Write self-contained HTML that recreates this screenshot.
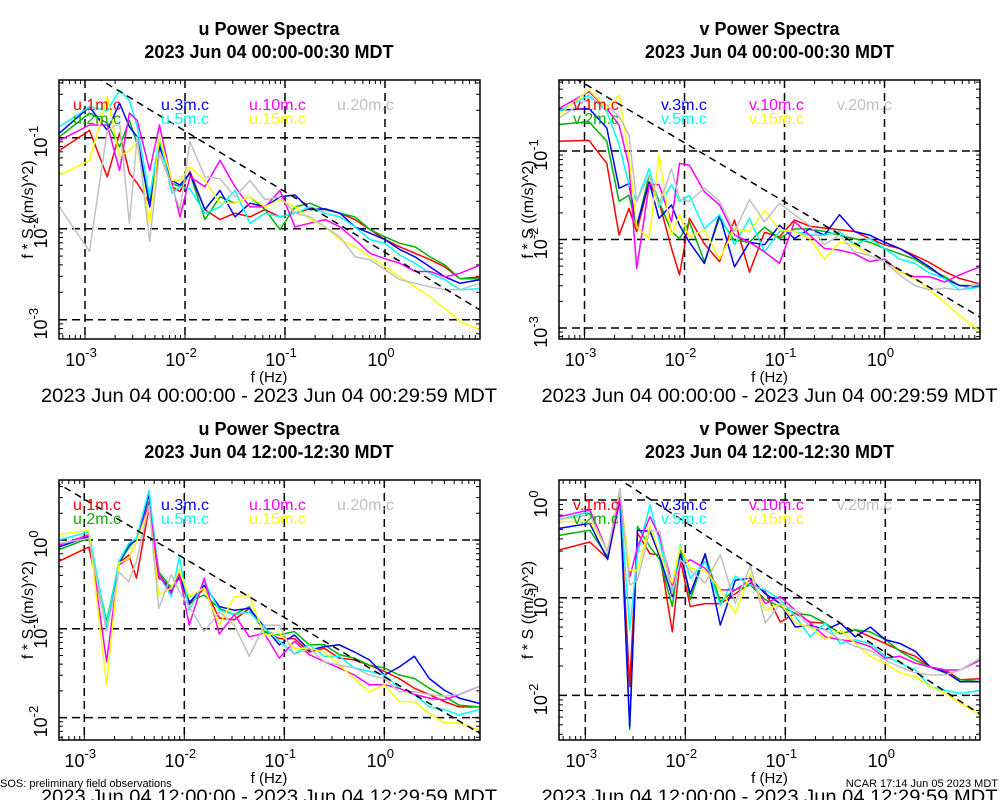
<!DOCTYPE html>
<html><head><meta charset="utf-8"><style>
html,body{margin:0;padding:0;background:#fff;}
svg{display:block;font-family:"Liberation Sans",sans-serif;}
</style></head><body>
<svg id="chart" width="1000" height="800" viewBox="0 0 1000 800" xmlns="http://www.w3.org/2000/svg"></svg>
<script>
// ---- shared data ----
const freqs = [0.000556,0.00111,0.00167,0.00222,0.00278,0.00333,0.00444,0.00556,0.00741,0.00891,0.0112,0.0158,0.0224,0.0316,0.0447,0.0631,0.0891,0.126,0.178,0.251,0.355,0.501,0.708,1.0,1.41,2.0,2.82,3.98,5.62,8.9];
const seriesNames = ["1m","2m","3m","5m","10m","15m","20m"];
const seriesColors = ["#ff0000","#00b400","#0000ff","#00ffff","#ff00ff","#ffff00","#c0c0c0"];
const xTickExps = [-3,-2,-1,0];

// panel 1: u night (log10 values)
const p1Red    = [-1.14,-0.92,-1.43,-0.95,-1.39,-1.50,-1.72,-1.17,-1.54,-1.59,-1.37,-1.79,-1.90,-1.83,-1.87,-1.79,-1.87,-1.83,-1.78,-1.79,-1.83,-1.90,-2.01,-2.12,-2.20,-2.27,-2.34,-2.42,-2.55,-2.53];
const p1Green  = [-0.99,-0.73,-0.84,-1.10,-0.81,-1.07,-1.72,-1.06,-1.50,-1.54,-1.39,-1.90,-1.65,-1.72,-1.65,-1.79,-2.01,-1.76,-1.72,-1.79,-1.83,-1.87,-2.01,-2.09,-2.16,-2.20,-2.31,-2.40,-2.55,-2.55];
const p1Blue   = [-0.95,-0.66,-0.92,-0.62,-0.88,-0.99,-1.76,-1.10,-1.47,-1.52,-1.39,-1.79,-1.58,-1.87,-1.72,-1.76,-1.65,-1.63,-1.79,-1.78,-1.83,-1.98,-2.05,-2.12,-2.23,-2.31,-2.42,-2.53,-2.60,-2.56];
const p1Cyan   = [-0.88,-0.66,-0.70,-0.48,-0.59,-0.88,-1.65,-0.99,-1.61,-1.54,-1.56,-1.83,-1.76,-1.58,-1.94,-1.83,-1.87,-1.83,-1.76,-1.83,-1.87,-1.98,-2.12,-2.16,-2.29,-2.38,-2.49,-2.56,-2.67,-2.66];
const p1Magenta= [-1.03,-0.86,-0.86,-1.36,-0.73,-0.81,-1.36,-0.86,-1.50,-1.87,-1.43,-1.54,-1.25,-1.54,-1.76,-1.76,-1.58,-1.98,-1.94,-1.90,-1.98,-2.12,-2.27,-2.33,-2.38,-2.47,-2.47,-2.53,-2.49,-2.40];
const p1Yellow = [-1.41,-1.25,-0.55,-1.21,-1.14,-1.06,-1.94,-0.99,-1.47,-1.47,-1.32,-1.47,-1.72,-1.72,-1.65,-1.76,-1.68,-1.76,-1.90,-1.98,-2.12,-2.20,-2.31,-2.42,-2.53,-2.64,-2.75,-2.88,-3.02,-3.11];
const p1Gray   = [-1.76,-2.25,-0.92,-0.84,-1.94,-0.99,-2.14,-1.17,-1.54,-1.79,-1.04,-1.43,-1.45,-1.65,-1.47,-1.68,-1.65,-1.83,-1.87,-1.98,-2.09,-2.31,-2.34,-2.45,-2.56,-2.60,-2.64,-2.67,-2.67,-2.60];

// panel 2: v night
const p2Red    = [-0.89,-0.88,-1.14,-1.95,-1.65,-1.91,-1.35,-1.57,-2.10,-2.40,-1.76,-2.05,-2.25,-1.78,-2.37,-1.92,-1.97,-1.78,-1.85,-1.87,-1.89,-1.91,-1.99,-2.06,-2.10,-2.18,-2.26,-2.36,-2.44,-2.50];
const p2Green  = [-0.70,-0.67,-0.89,-1.57,-1.50,-1.86,-1.27,-1.57,-1.91,-1.99,-1.80,-2.25,-1.76,-2.01,-2.03,-1.86,-1.99,-1.88,-1.88,-1.91,-1.95,-1.99,-2.03,-2.10,-2.16,-2.22,-2.33,-2.42,-2.52,-2.52];
const p2Blue   = [-0.54,-0.52,-0.74,-1.42,-1.37,-1.84,-1.35,-1.76,-1.61,-1.84,-2.03,-2.27,-1.72,-2.31,-2.03,-2.06,-1.84,-1.99,-1.88,-1.95,-1.72,-1.91,-1.95,-2.03,-2.10,-2.20,-2.31,-2.44,-2.52,-2.54];
const p2Cyan   = [-0.55,-0.37,-0.55,-0.93,-1.38,-1.57,-1.20,-1.63,-1.38,-1.57,-1.50,-1.88,-1.72,-2.06,-1.76,-2.14,-1.91,-1.91,-1.95,-1.95,-1.91,-2.06,-1.99,-2.10,-2.22,-2.27,-2.38,-2.44,-2.57,-2.54];
const p2Magenta= [-0.52,-0.33,-0.52,-0.71,-1.16,-2.33,-1.38,-1.38,-1.80,-1.14,-1.16,-1.46,-1.61,-1.95,-2.03,-2.14,-2.27,-1.80,-1.95,-2.10,-2.12,-2.16,-2.25,-2.22,-2.37,-2.42,-2.42,-2.48,-2.40,-2.31];
const p2Yellow = [-0.59,-0.31,-0.52,-0.37,-1.05,-1.86,-1.99,-1.05,-1.95,-1.72,-1.97,-1.89,-2.22,-1.88,-1.91,-1.67,-1.89,-1.91,-1.99,-2.22,-2.03,-2.06,-2.18,-2.25,-2.37,-2.44,-2.57,-2.71,-2.86,-3.03];
const p2Gray   = [-0.63,-0.40,-0.48,-0.61,-0.82,-1.57,-1.27,-1.61,-1.20,-1.54,-1.57,-1.42,-1.57,-1.91,-1.55,-1.80,-1.59,-1.72,-1.84,-2.06,-1.95,-2.14,-2.18,-2.25,-2.40,-2.52,-2.57,-2.55,-2.57,-2.50];

// panel 3: u day
const p3Red    = [-0.24,-0.08,-0.99,-0.26,-0.17,-0.43,0.36,-0.43,-0.53,-0.43,-0.73,-0.54,-0.88,-0.90,-0.77,-1.03,-1.11,-1.11,-1.26,-1.22,-1.33,-1.35,-1.41,-1.48,-1.56,-1.67,-1.74,-1.82,-1.88,-1.88];
const p3Green  = [-0.11,0.02,-0.92,-0.26,-0.09,0.02,0.43,-0.36,-0.54,-0.36,-0.69,-0.62,-0.77,-0.84,-0.75,-1.03,-1.07,-1.03,-1.18,-1.18,-1.29,-1.33,-1.41,-1.44,-1.52,-1.56,-1.67,-1.76,-1.86,-1.88];
const p3Blue   = [-0.08,0.04,-0.99,-0.26,-0.06,0.00,0.51,-0.39,-0.58,-0.41,-0.71,-0.51,-0.75,-0.79,-0.77,-0.98,-1.18,-1.07,-1.24,-1.20,-1.18,-1.26,-1.35,-1.52,-1.43,-1.31,-1.56,-1.69,-1.78,-1.84];
const p3Cyan   = [0.00,0.09,-0.96,-0.24,-0.04,0.02,0.56,-0.39,-0.64,-0.19,-0.79,-0.47,-0.79,-0.84,-0.81,-0.99,-1.14,-1.28,-1.18,-1.31,-1.31,-1.44,-1.48,-1.52,-1.67,-1.74,-1.88,-1.91,-1.97,-1.91];
const p3Magenta= [-0.06,0.06,-1.37,-0.28,-0.21,-0.02,0.41,-0.39,-0.60,-0.38,-0.96,-0.43,-1.06,-0.84,-1.09,-1.05,-1.33,-1.14,-1.29,-1.37,-1.44,-1.52,-1.63,-1.63,-1.67,-1.74,-1.78,-1.80,-1.74,-1.65];
const p3Yellow = [0.06,0.11,-1.63,-0.26,-0.21,-0.02,0.36,-0.62,-0.54,-0.34,-0.64,-0.54,-0.96,-0.64,-0.62,-1.07,-1.05,-1.22,-1.22,-1.26,-1.41,-1.56,-1.71,-1.63,-1.82,-1.82,-1.95,-2.06,-2.06,-2.14];
const p3Gray   = [-0.04,0.02,-1.03,-0.36,-0.47,-0.24,0.39,-0.77,-0.39,-0.58,-0.75,-1.03,-0.81,-0.96,-1.31,-0.96,-0.96,-1.29,-1.22,-1.37,-1.41,-1.44,-1.52,-1.56,-1.71,-1.71,-1.74,-1.76,-1.74,-1.65];

// panel 4: v day
const p4Red    = [-0.51,-0.43,-0.60,0.00,-1.91,-0.34,-0.55,-0.56,-1.35,-0.61,-1.09,-1.06,-1.06,-0.96,-0.85,-0.94,-1.25,-1.16,-1.25,-1.26,-1.37,-1.33,-1.40,-1.47,-1.54,-1.60,-1.71,-1.74,-1.84,-1.83];
const p4Green  = [-0.36,-0.31,-0.58,0.07,-2.35,-0.27,-0.48,-0.61,-1.09,-0.48,-1.02,-0.56,-1.04,-0.92,-0.87,-1.02,-1.09,-1.16,-1.18,-1.26,-1.37,-1.33,-1.35,-1.43,-1.55,-1.64,-1.71,-1.77,-1.84,-1.86];
const p4Blue   = [-0.29,-0.24,-0.61,0.02,-2.32,-0.31,-0.32,-0.58,-0.99,-0.55,-0.96,-0.55,-1.28,-0.82,-0.80,-0.96,-1.06,-1.30,-1.28,-1.33,-1.26,-1.40,-1.30,-1.43,-1.47,-1.55,-1.71,-1.76,-1.86,-1.86];
const p4Cyan   = [-0.20,-0.12,-0.53,0.07,-1.33,-0.55,-0.05,-0.44,-0.94,-0.46,-0.80,-0.63,-1.08,-0.78,-0.87,-0.92,-1.02,-1.19,-1.40,-1.26,-1.47,-1.43,-1.47,-1.60,-1.67,-1.74,-1.91,-1.95,-1.98,-1.95];
const p4Magenta= [-0.17,-0.10,-0.53,0.03,-0.79,-0.48,-0.17,-0.38,-0.87,-0.68,-0.61,-0.70,-0.92,-0.92,-0.82,-1.06,-0.99,-1.13,-1.26,-1.40,-1.43,-1.45,-1.50,-1.62,-1.60,-1.67,-1.71,-1.74,-1.74,-1.64];
const p4Yellow = [-0.22,-0.22,-0.51,0.10,-0.72,-0.72,-0.26,-0.55,-0.85,-0.48,-0.70,-0.72,-0.92,-1.16,-0.75,-1.13,-1.06,-1.26,-1.30,-1.43,-1.33,-1.47,-1.60,-1.67,-1.77,-1.81,-1.91,-1.98,-2.08,-2.20];
const p4Gray   = [-0.20,-0.15,-0.53,0.12,-0.87,-0.82,-0.31,-0.32,-0.96,-0.61,-0.72,-0.85,-0.56,-1.06,-0.67,-1.26,-1.06,-1.13,-1.30,-1.33,-1.43,-1.50,-1.54,-1.64,-1.71,-1.77,-1.79,-1.79,-1.74,-1.62];

const p1YTicks = [-1,-2,-3];
const p2YTicks = [-1,-2,-3];
const p3YTicks = [0,-1,-2];
const p4YTicks = [0,-1,-2];
// reference line: log10(y) = intercept - (2/3) log10(f)
const refIntercepts = [-2.26,-2.24,-1.54,-1.56];

const panels = [
 {comp:"u", title:"u Power Spectra", sub:"2023 Jun 04 00:00-00:30 MDT", range:"2023 Jun 04 00:00:00 - 2023 Jun 04 00:29:59 MDT",
  x0:59,x1:480,y0:80,y1:339,xDec:85,yRef:-1,yRefPx:137.7,yPerDec:91,series:[p1Red,p1Green,p1Blue,p1Cyan,p1Magenta,p1Yellow,p1Gray],yt:p1YTicks,ref:refIntercepts[0],top:0},
 {comp:"v", title:"v Power Spectra", sub:"2023 Jun 04 00:00-00:30 MDT", range:"2023 Jun 04 00:00:00 - 2023 Jun 04 00:29:59 MDT",
  x0:559,x1:980,y0:80,y1:339,xDec:584.5,yRef:-1,yRefPx:151,yPerDec:88.5,series:[p2Red,p2Green,p2Blue,p2Cyan,p2Magenta,p2Yellow,p2Gray],yt:p2YTicks,ref:refIntercepts[1],top:0},
 {comp:"u", title:"u Power Spectra", sub:"2023 Jun 04 12:00-12:30 MDT", range:"2023 Jun 04 12:00:00 - 2023 Jun 04 12:29:59 MDT",
  x0:59,x1:480,y0:480,y1:740,xDec:84.3,yRef:0,yRefPx:540,yPerDec:88.8,series:[p3Red,p3Green,p3Blue,p3Cyan,p3Magenta,p3Yellow,p3Gray],yt:p3YTicks,ref:refIntercepts[2],top:400},
 {comp:"v", title:"v Power Spectra", sub:"2023 Jun 04 12:00-12:30 MDT", range:"2023 Jun 04 12:00:00 - 2023 Jun 04 12:29:59 MDT",
  x0:559,x1:980,y0:480,y1:740,xDec:585.3,yRef:0,yRefPx:500,yPerDec:97.7,series:[p4Red,p4Green,p4Blue,p4Cyan,p4Magenta,p4Yellow,p4Gray],yt:p4YTicks,ref:refIntercepts[3],top:400}
];

const NS="http://www.w3.org/2000/svg";
const svg=document.getElementById('chart');
function mk(tag,attrs,parent){const e=document.createElementNS(NS,tag);for(const k in attrs)e.setAttribute(k,attrs[k]);(parent||svg).appendChild(e);return e;}

panels.forEach((p,pi)=>{
  const g=mk('g',{});
  
  
  const cx=(p.x0+p.x1)/2+(pi%2===0?-0.5:0);
  const sx=L=>p.xDec+(L+3)*100;
  const sy=V=>p.yRefPx-(V-p.yRef)*p.yPerDec;
  const clipId='clip'+pi;
  const cp=mk('clipPath',{id:clipId},g);mk('rect',{x:p.x0,y:p.y0,width:p.x1-p.x0,height:p.y1-p.y0},cp);

  const t1=mk('text',{x:cx,y:p.top+35,'text-anchor':'middle','font-size':18,'font-weight':'bold'},g);t1.textContent=p.title;
  
  const t2=mk('text',{x:cx,y:p.top+58,'text-anchor':'middle','font-size':18,'font-weight':'bold'},g);t2.textContent=p.sub;
  

  // grid
  const grid=mk('g',{stroke:'#000','stroke-width':1.5,'stroke-dasharray':'8,5',fill:'none'},g);
  
  xTickExps.forEach(e=>mk('line',{x1:sx(e),x2:sx(e),y1:p.y0,y2:p.y1},grid));
  p.yt.forEach(v=>mk('line',{x1:p.x0,x2:p.x1,y1:sy(v),y2:sy(v)},grid));

  // minor ticks
  const mt=mk('g',{stroke:'#000','stroke-width':1},g);
  
  for(let d=-4;d<=1;d++)for(let m=1;m<=9;m++){const L=d+Math.log10(m);const x=sx(L);if(x<=p.x0+1||x>=p.x1-1)continue;const len=m===1?8:4;
    mk('line',{x1:x,x2:x,y1:p.y1,y2:p.y1-len},mt);mk('line',{x1:x,x2:x,y1:p.y0,y2:p.y0+len},mt);}
  for(let d=-4;d<=1;d++)for(let m=1;m<=9;m++){const V=d+Math.log10(m);const y=sy(V);if(y<=p.y0+1||y>=p.y1-1)continue;const len=m===1?8:4;
    mk('line',{x1:p.x0,x2:p.x0+len,y1:y,y2:y},mt);mk('line',{x1:p.x1,x2:p.x1-len,y1:y,y2:y},mt);}

  // series
  const sg=mk('g',{'clip-path':'url(#'+clipId+')',fill:'none','stroke-width':1.5,'stroke-linejoin':'round'},g);
  p.series.forEach((vals,si)=>{
    const d=vals.map((v,i)=>(i?'L':'M')+sx(Math.log10(freqs[i])).toFixed(1)+','+sy(v).toFixed(1)).join('');
    const path=mk('path',{d:d,stroke:seriesColors[si]},sg);
    
    
  });
  // reference slope line
  const la=-3.3,lb=1.0;
  const ref=mk('line',{x1:sx(la),y1:sy(p.ref-2/3*la),x2:sx(lb),y2:sy(p.ref-2/3*lb),stroke:'#000','stroke-width':1.5,'stroke-dasharray':'7,5'},sg);
  

  // box
  const box=mk('rect',{x:p.x0,y:p.y0,width:p.x1-p.x0,height:p.y1-p.y0,fill:'none',stroke:'#000','stroke-width':1.5},g);
  

  // legend
  const lx=[p.x0+14,p.x0+102,p.x0+190,p.x0+278];
  seriesNames.forEach((n,si)=>{
    const col=si===6?3:Math.floor(si/2);const row=si===6?0:si%2;
    const t=mk('text',{x:lx[col],y:p.y0+30+row*14,'font-size':16,fill:seriesColors[si]},g);
    t.textContent=p.comp+'.'+n+'.c';
    
  });

  // x tick labels
  xTickExps.forEach(e=>{
    const t=mk('text',{x:sx(e)-4,y:p.y1+27,'text-anchor':'middle','font-size':18},g);
    
    t.appendChild(document.createTextNode('10'));
    const s=mk('tspan',{dy:-9,'font-size':13},t);s.textContent=String(e);
  });
  // y tick labels
  p.yt.forEach(v=>{
    const t=mk('text',{transform:'translate('+(p.x0-12)+','+(sy(v)+4)+') rotate(-90)','text-anchor':'middle','font-size':18},g);
    
    t.appendChild(document.createTextNode('10'));
    const s=mk('tspan',{dy:-9,'font-size':13},t);s.textContent=String(v);
  });
  // axis titles
  const xt=mk('text',{x:cx,y:p.y1+43,'text-anchor':'middle','font-size':15},g);xt.textContent='f (Hz)';
  
  const yc=(p.y0+p.y1)/2;
  const yt=mk('text',{transform:'translate('+(p.x0-26)+','+yc+') rotate(-90)','text-anchor':'middle','font-size':16},g);yt.textContent='f * S ((m/s)^2)';
  
  const rt=mk('text',{x:cx,y:p.y1+63,'text-anchor':'middle','font-size':19,textLength:456,lengthAdjust:'spacingAndGlyphs'},g);rt.textContent=p.range;
  
});

const f1=mk('text',{x:0,y:787,'font-size':11});f1.textContent='SOS: preliminary field observations';

const f2=mk('text',{x:998,y:787,'font-size':11,'text-anchor':'end'});f2.textContent='NCAR 17:14 Jun 05 2023 MDT';

</script>
</body></html>
